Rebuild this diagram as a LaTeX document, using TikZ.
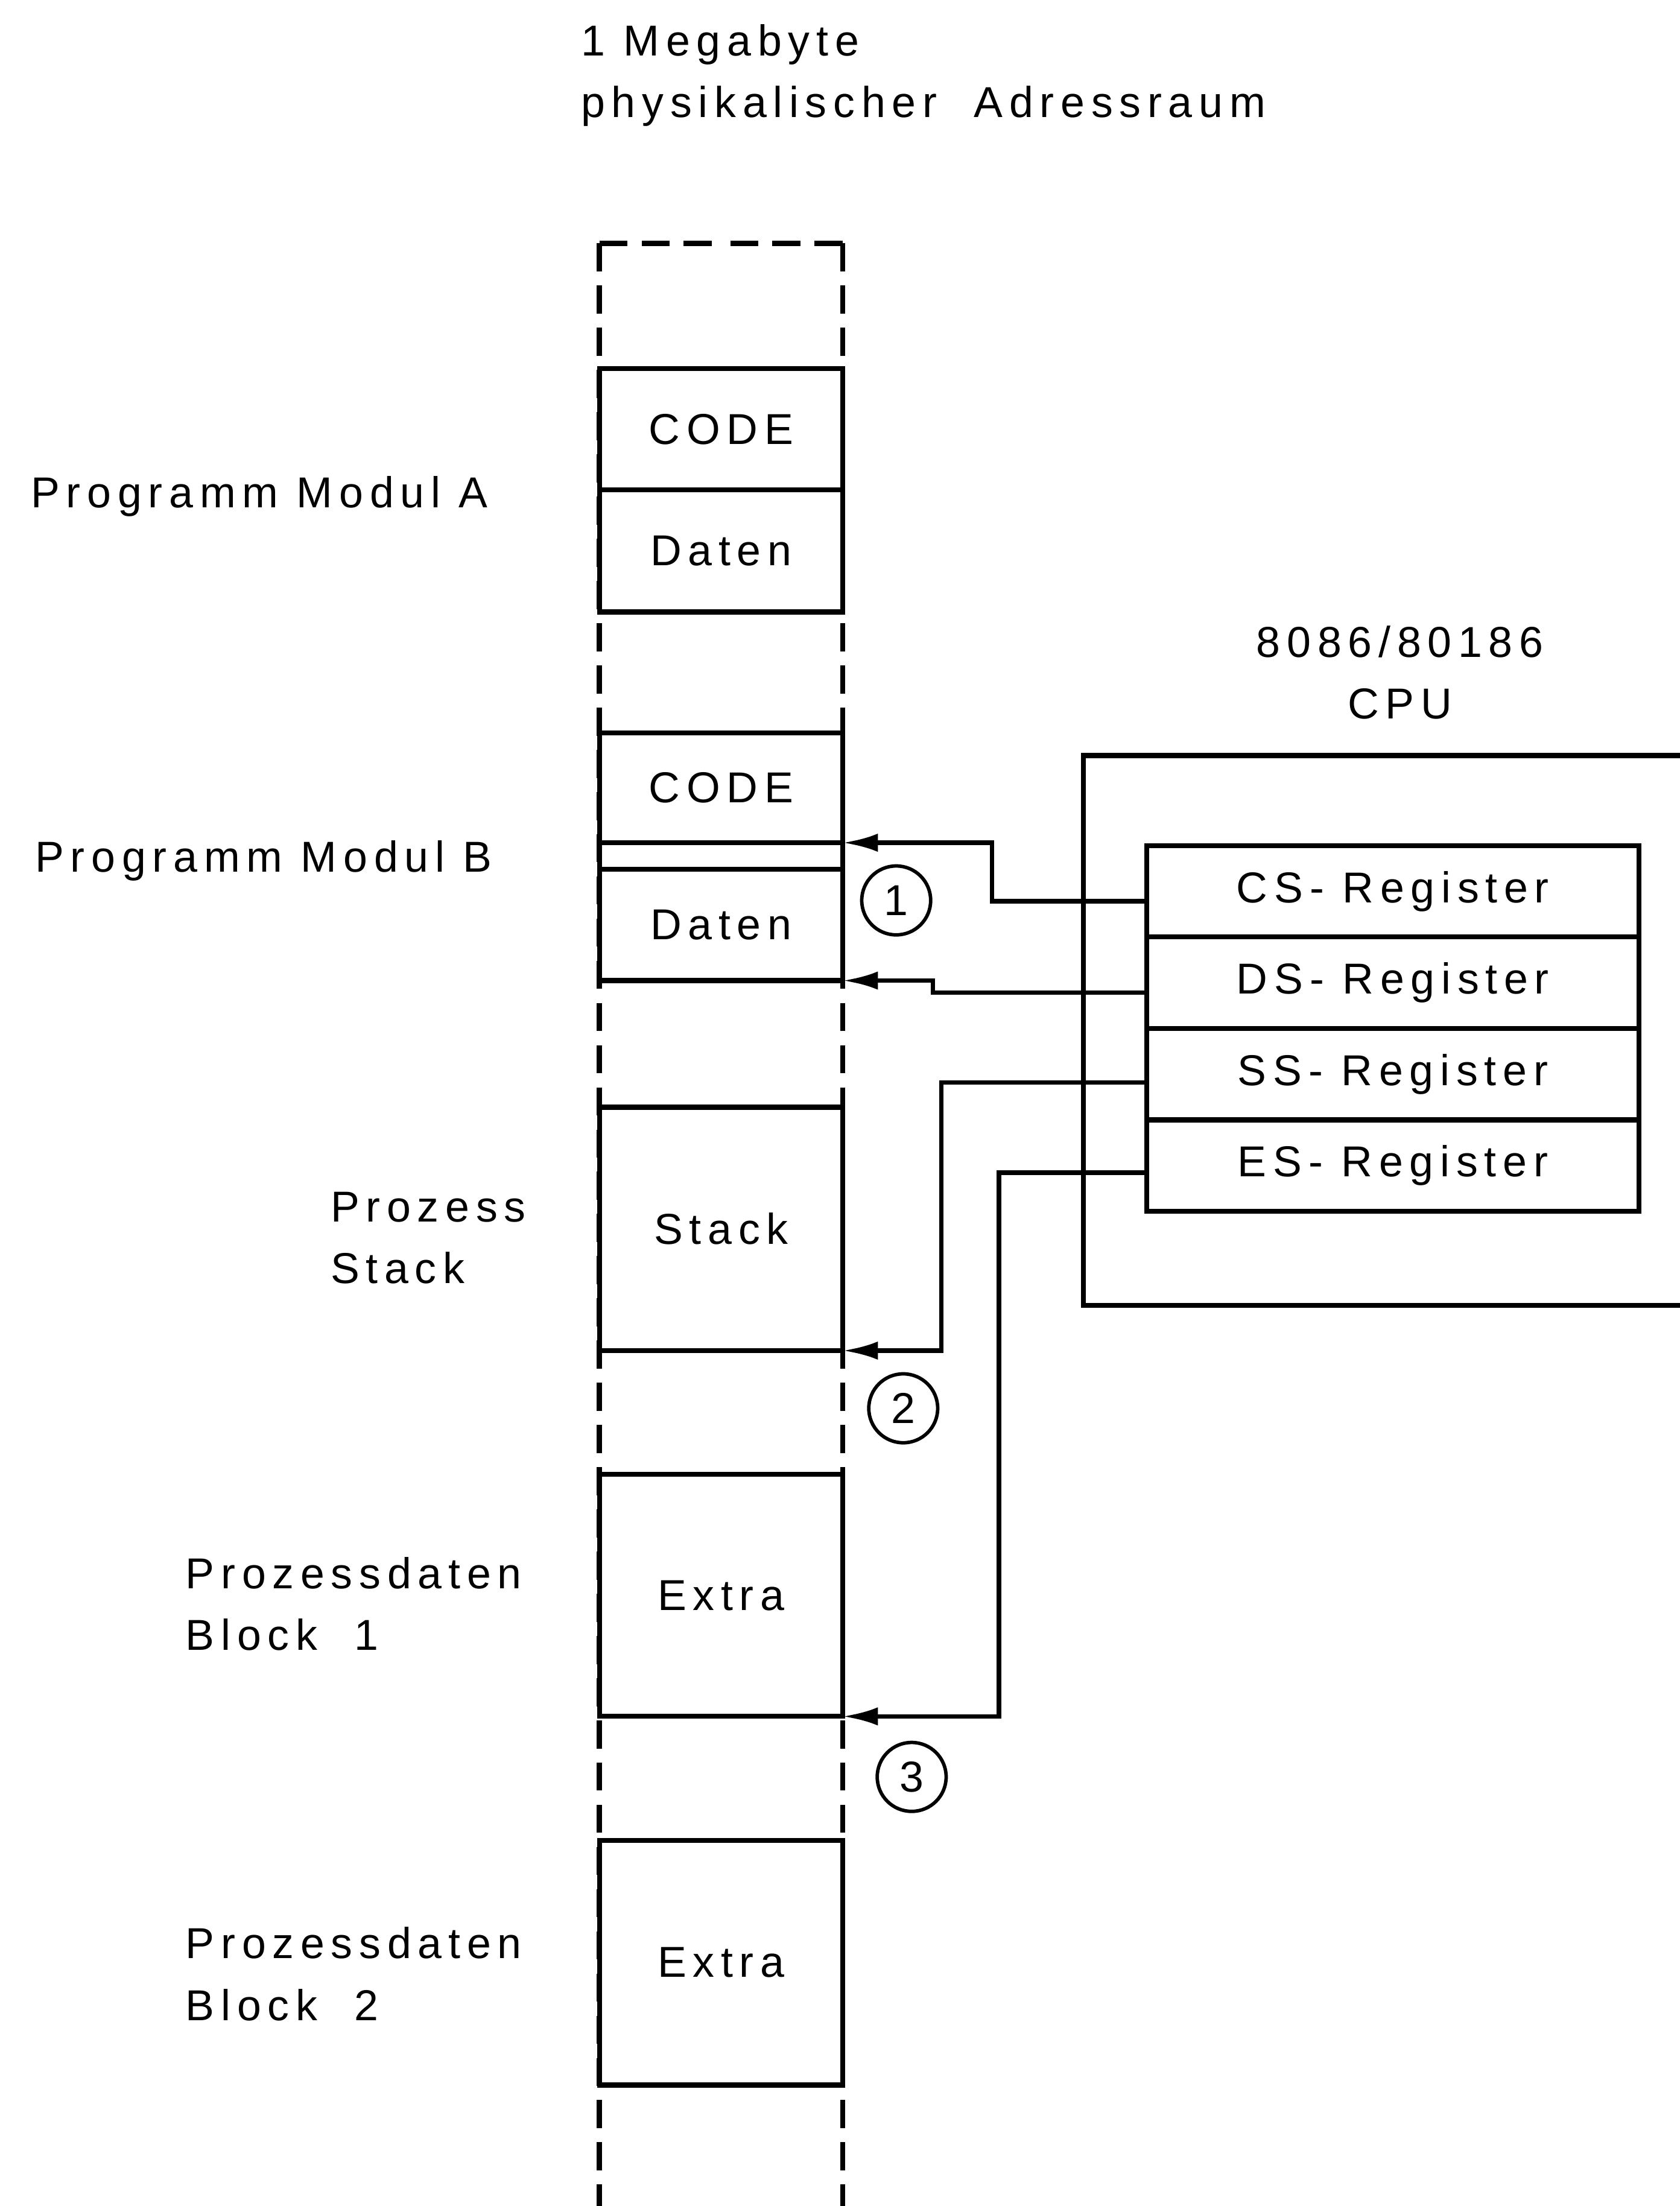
\documentclass[tikz,border=0pt]{standalone}
\usepackage{fontspec}
\setmainfont[LetterSpace=15]{Liberation Sans}
\usetikzlibrary{arrows.meta,positioning}

\begin{document}
\begin{tikzpicture}[x=0.02cm, y=-0.02cm,
        font=\fontsize{17.5}{25}\selectfont,
        every node/.style={inner sep=0pt, outer sep=0pt},
        membox/.style={draw, line width=2pt, minimum width=3.46cm},
        regbox/.style={draw, line width=2pt, minimum width=7cm, minimum height=1.3cm},
        memline/.style={line width=2pt, dash pattern=on 0.4cm off 0.2cm},
        conn/.style={line width=1.8pt, -{Latex[length=5mm, width=2.6mm]}},
        marker/.style={draw, circle, line width=1.4pt, minimum size=0.98cm},
        lefttext/.style={anchor=west, align=left}]
            \useasboundingbox (0,0) rectangle (1194,1568);

            % Adressraum
            \foreach \x in {426,599} {
                \draw[memline] (\x,173) -- (\x,1568);
                \draw[memline] (\x,173) -- (512.5,173);
            }

            \node[membox, minimum height=1.72cm] (codeA) at (512.5,305) {CODE};
            \node[membox, minimum height=1.74cm, below=0pt of codeA] (datenA) {Daten};

            \node[membox, minimum height=1.56cm] (codeB) at (512.5,560) {CODE};
            \node[membox, minimum height=0.38cm, below=0pt of codeB] (stripB) {};
            \node[membox, minimum height=1.58cm, below=0pt of stripB] (datenB) {Daten};

            \node[membox, minimum height=3.46cm] (stack) at (512.5,873.5) {Stack};
            \node[membox, minimum height=3.44cm] (extraA) at (512.5,1134) {Extra};
            \node[membox, minimum height=3.48cm] (extraB) at (512.5,1395) {Extra};

            % CPU
            \draw[line width=2pt] (1194,537) -- (770,537) -- (770,928) -- (1194,928);

            \node[regbox] (csreg) at (990,633.5) {CS- Register};
            \node[regbox, below=0pt of csreg] (dsreg) {DS- Register};
            \node[regbox, below=0pt of dsreg] (ssreg) {SS- Register};
            \node[regbox, below=0pt of ssreg] (esreg) {ES- Register};

            \draw[conn] ([yshift=-0.14cm]csreg.west) -- ++(-110,0) |- (codeB.south east);
            \draw[conn] ([yshift=-0.14cm]dsreg.west) -- ++(-152,0) |- (datenB.south east);
            \draw[conn] ([yshift=-0.12cm]ssreg.west) -- ++(-146,0) |- (stack.south east);
            \draw[conn] ([yshift=-0.1cm]esreg.west) -- ++(-105,0) |- (extraA.south east);

            \node[marker] (one) at (637,640) {1};
            \node[marker] (two) at (642,1001) {2};
            \node[marker] (three) at (648,1263) {3};

            % Beschriftung
            \node[lefttext] (title) at (413,53.5) {1 Megabyte\\physikalischer \ Adressraum};
            \node[lefttext] (modA) at (22,353) {Programm Modul A};
            \node[lefttext] (modB) at (25,612) {Programm Modul B};
            \node[lefttext] (procstack) at (235,880) {Prozess\\Stack};
            \node[lefttext] (blockA) at (132,1140) {Prozessdaten\\Block \ 1};
            \node[lefttext] (blockB) at (132,1403) {Prozessdaten\\Block \ 2};
            \node[align=center] (cpu) at (995,478) {8086/80186\\CPU};
        \end{tikzpicture}
\end{document}
